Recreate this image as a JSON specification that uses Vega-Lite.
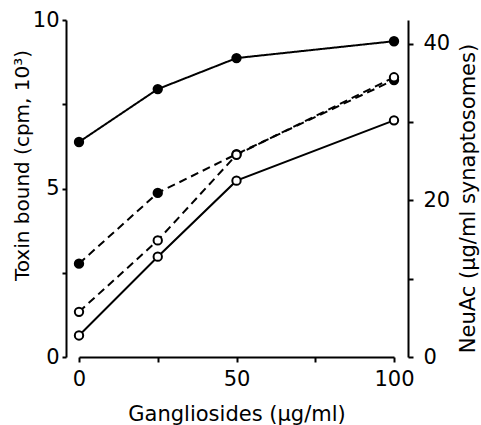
{
  "$schema": "https://vega.github.io/schema/vega-lite/v6.json",
  "autosize": {"type": "none"},
  "padding": {"left": 79, "top": 20, "right": 87, "bottom": 68},
  "width": 315,
  "height": 337,
  "background": "white",
  "datasets": {
    "toxin": [
      {"conc": 0, "toxin": 6.38, "series": "A"},
      {"conc": 25, "toxin": 7.95, "series": "A"},
      {"conc": 50, "toxin": 8.87, "series": "A"},
      {"conc": 100, "toxin": 9.37, "series": "A"},
      {"conc": 0, "toxin": 2.77, "series": "B"},
      {"conc": 25, "toxin": 4.87, "series": "B"},
      {"conc": 50, "toxin": 6.02, "series": "B"},
      {"conc": 100, "toxin": 8.22, "series": "B"},
      {"conc": 0, "toxin": 1.34, "series": "C"},
      {"conc": 25, "toxin": 3.46, "series": "C"},
      {"conc": 50, "toxin": 6.0, "series": "C"},
      {"conc": 100, "toxin": 8.3, "series": "C"}
    ],
    "neuac": [
      {"conc": 0, "neuac": 2.75},
      {"conc": 25, "neuac": 12.8},
      {"conc": 50, "neuac": 22.5},
      {"conc": 100, "neuac": 30.2}
    ]
  },
  "encoding": {
    "x": {
      "field": "conc", "type": "quantitative",
      "scale": {"domain": [0, 100], "nice": false},
      "axis": {
        "values": [0, 25, 50, 75, 100],
        "labelExpr": "datum.value % 50 == 0 ? datum.label : ''",
        "title": "Gangliosides (µg/ml)",
        "tickSize": 5, "labelPadding": 6, "labelFontSize": 21,
        "titleFontSize": 21, "titleBaseline": "alphabetic", "titleY": 63,
        "labelFlush": false
      }
    }
  },
  "layer": [
    {
      "data": {"name": "toxin"},
      "encoding": {
        "y": {
          "field": "toxin", "type": "quantitative",
          "scale": {"domain": [0, 10], "nice": false},
          "axis": {
            "orient": "left",
            "values": [0, 2.5, 5, 7.5, 10],
            "labelExpr": "datum.value % 5 == 0 ? datum.label : ''",
            "title": "Toxin bound  (cpm, 10³)",
            "offset": 13, "tickSize": 4, "labelPadding": 3,
            "labelFontSize": 21, "titleFontSize": 20,
            "titleBaseline": "middle", "titleX": -44, "titleY": 145
          }
        }
      },
      "layer": [
        {
          "mark": {"type": "line", "color": "black", "strokeWidth": 2},
          "encoding": {
            "detail": {"field": "series"},
            "strokeDash": {
              "field": "series", "type": "nominal",
              "scale": {"domain": ["A", "B", "C"], "range": [[1, 0], [8, 5], [8, 5]]},
              "legend": null
            }
          }
        },
        {
          "mark": {"type": "point", "shape": "circle", "filled": true, "stroke": "black", "strokeWidth": 2, "size": 70, "opacity": 1},
          "encoding": {
            "fill": {
              "field": "series", "type": "nominal",
              "scale": {"domain": ["A", "B", "C"], "range": ["black", "black", "white"]},
              "legend": null
            }
          }
        }
      ]
    },
    {
      "data": {"name": "neuac"},
      "encoding": {
        "y": {
          "field": "neuac", "type": "quantitative",
          "scale": {"domain": [0, 43], "nice": false},
          "axis": {
            "orient": "right",
            "values": [0, 10, 20, 30, 40],
            "labelExpr": "datum.value % 20 == 0 ? datum.label : ''",
            "title": "NeuAc (µg/ml synaptosomes)",
            "offset": 14, "tickSize": 5, "labelPadding": 10,
            "labelFontSize": 21, "titleFontSize": 21,
            "titleAngle": 270, "titleBaseline": "middle", "titleAlign": "center",
            "titleX": 60, "titleY": 178
          }
        }
      },
      "layer": [
        {"mark": {"type": "line", "color": "black", "strokeWidth": 2}, "encoding": {}},
        {"mark": {"type": "point", "shape": "circle", "filled": true, "fill": "white", "stroke": "black", "strokeWidth": 2, "size": 70, "opacity": 1}, "encoding": {}}
      ]
    }
  ],
  "resolve": {"scale": {"y": "independent"}},
  "config": {
    "view": {"stroke": null},
    "axis": {
      "grid": false, "domainColor": "black", "domainWidth": 2,
      "tickColor": "black", "tickWidth": 2,
      "labelColor": "black", "titleColor": "black",
      "labelFont": "DejaVu Sans", "titleFont": "DejaVu Sans",
      "titleFontWeight": "normal"
    }
  }
}
